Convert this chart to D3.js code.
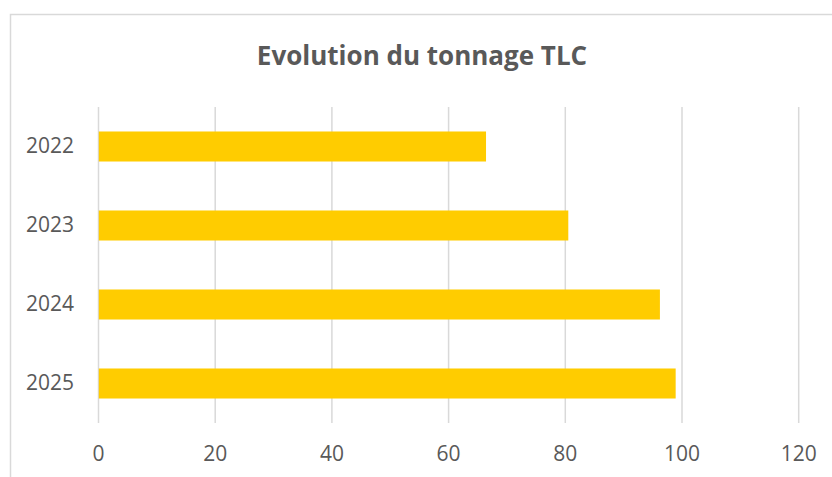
<!DOCTYPE html>
<html>
<head>
<meta charset="utf-8">
<script src="https://cdn.jsdelivr.net/npm/d3@7"></script>
<style>
  body { margin: 0; background: #fff; }
  svg { display: block; }
</style>
</head>
<body>
<svg id="chart" width="832" height="477"></svg>
<script>
// data
const years = ["2022", "2023", "2024", "2025"];
const tonnage = [66.5, 80.6, 96.3, 99.0];
const xTicks = [0, 20, 40, 60, 80, 100, 120];
const title = "Evolution du tonnage TLC";

const margin = { top: 107, left: 98, right: 34, bottom: 54 };
const width = 832 - margin.left - margin.right;
const height = 477 - margin.top - margin.bottom;

const svg = d3.select("#chart");

// chart area frame, runs off the right/bottom edges
svg.append("rect")
    .attr("x", 10.5).attr("y", 14.5)
    .attr("width", 900).attr("height", 600)
    .attr("fill", "#fff")
    .attr("stroke", "#d9d9d9")
    .attr("stroke-width", 1.5);

svg.append("text")
    .attr("x", 422).attr("y", 65)
    .attr("text-anchor", "middle")
    .attr("font-family", "Open Sans")
    .attr("font-weight", "bold")
    .attr("font-size", 26)
    .attr("fill", "#595959")
    .text(title);

const g = svg.append("g")
    .attr("transform", `translate(${margin.left},${margin.top})`);

const x = d3.scaleLinear().domain([0, 120]).range([0, 700.2]);
const y = d3.scaleBand().domain(years).range([0, 316]).paddingInner(0.62).paddingOuter(0.31);

// gridlines
g.append("g")
    .call(d3.axisBottom(x).tickValues(xTicks).tickSize(316).tickFormat(""))
    .call(a => a.select(".domain").remove())
    .call(a => a.selectAll("line").attr("stroke", "#d9d9d9").attr("stroke-width", 1.5));

// bars
g.selectAll(".bar")
    .data(years)
    .enter().append("rect")
    .attr("class", "bar")
    .attr("x", x(0) + 0.8)
    .attr("y", d => y(d))
    .attr("width", (d, i) => x(tonnage[i]) - x(0) - 0.8)
    .attr("height", y.bandwidth())
    .attr("fill", "#ffcc00");

// x axis labels
g.append("g")
    .attr("transform", `translate(0,${height})`)
    .call(d3.axisBottom(x).tickValues(xTicks).tickSize(0).tickPadding(23))
    .call(a => a.select(".domain").remove())
    .call(a => a.selectAll("text")
        .attr("font-family", "Open Sans")
        .attr("font-size", 21)
        .attr("fill", "#595959"));

// y axis labels
g.append("g")
    .call(d3.axisLeft(y).tickSize(0).tickPadding(24))
    .call(a => a.select(".domain").remove())
    .call(a => a.selectAll("text")
        .attr("font-family", "Open Sans")
        .attr("font-size", 21)
        .attr("fill", "#595959"));
</script>
</body>
</html>
